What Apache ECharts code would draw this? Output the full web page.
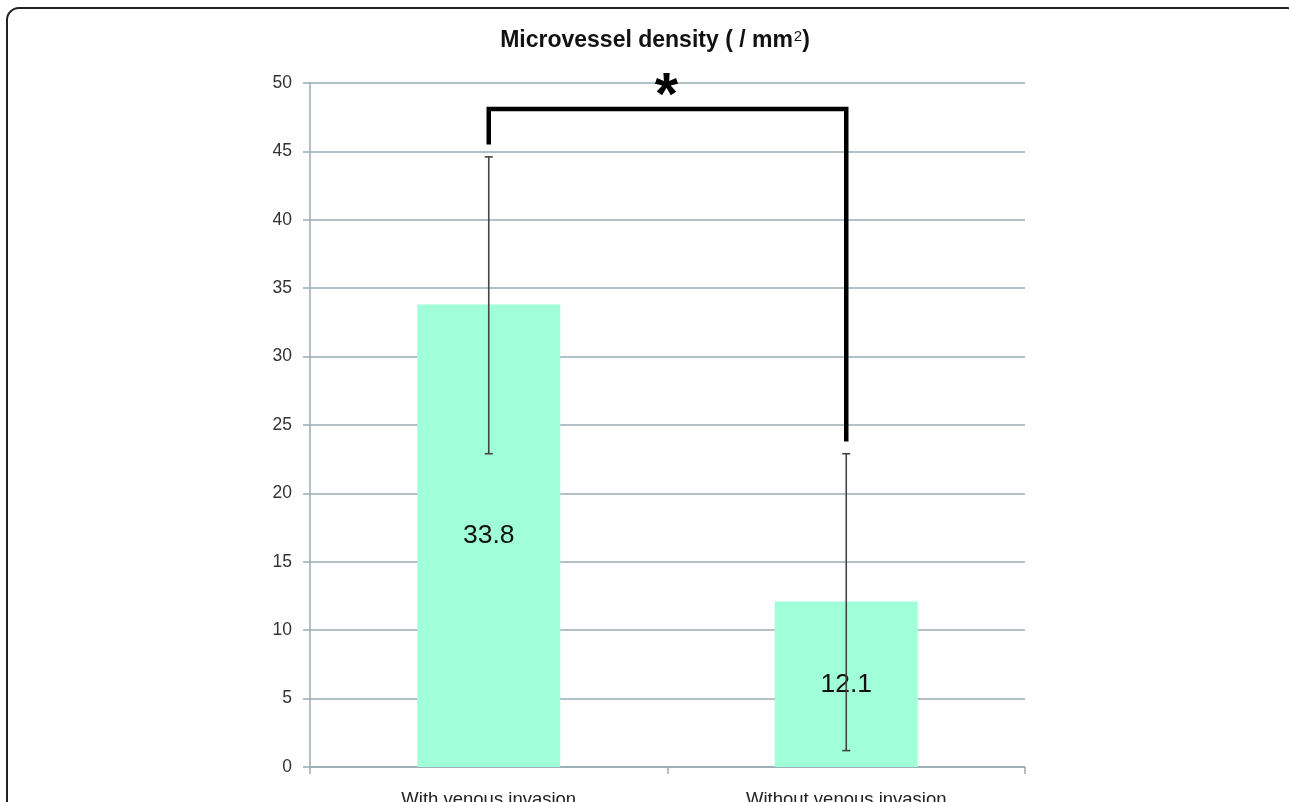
<!DOCTYPE html>
<html><head><meta charset="utf-8">
<script src="https://cdn.jsdelivr.net/npm/echarts@6/dist/echarts.min.js"></script>
<style>html,body{margin:0;padding:0;background:#fff;}#c{width:1289px;height:802px;}</style>
</head><body><div id="c"></div>
<script>
const categories = ['With venous invasion', 'Without venous invasion'];
const means = [33.8, 12.1];
const errLow = [22.9, 1.2];
const errHigh = [44.6, 22.9];
const yTicks = [0, 5, 10, 15, 20, 25, 30, 35, 40, 45, 50];
const bracket = [[0, 45.5], [0, 48.1], [1, 48.1], [1, 23.8]];
const starLevel = 50;

const chart = echarts.init(document.getElementById('c'));
const axisColor = '#9aabb3';
chart.setOption({
  animation: false,
  title: {
    text: 'Microvessel density ( / mm{s|2})',
    left: 650, top: 24, textAlign: 'center',
    textStyle: {
      fontFamily: 'Liberation Sans, Arial', fontWeight: 'bold', fontSize: 23, color: '#111',
      rich: { s: { fontFamily: 'Liberation Sans', fontSize: 15, fontWeight: 'normal', verticalAlign: 'top', padding: [0, 0, 9, 1], color: '#111' } }
    }
  },
  grid: { left: 310, right: 264, top: 83, bottom: 35, containLabel: false, outerBoundsMode: 'none' },
  xAxis: {
    type: 'category', data: categories,
    axisLine: { lineStyle: { color: axisColor, width: 1.5 } },
    axisTick: { show: true, length: 7, lineStyle: { color: axisColor, width: 1.5 } },
    axisLabel: { margin: 23, fontFamily: 'Liberation Sans, Arial', fontSize: 18.5, color: '#222' }
  },
  yAxis: {
    type: 'value', min: 0, max: 50, interval: 5,
    axisLine: { show: true, lineStyle: { color: axisColor, width: 1.5 } },
    axisTick: { show: true, length: 7, lineStyle: { color: axisColor, width: 1.5 } },
    splitLine: { lineStyle: { color: axisColor, width: 1.5 } },
    axisLabel: { margin: 18, fontFamily: 'Liberation Sans, Arial', fontSize: 17.5, color: '#333' }
  },
  series: [
    {
      type: 'bar', data: means, barWidth: '40%',
      itemStyle: { color: '#a0fed9' },
      label: { show: true, position: 'inside', fontFamily: 'Liberation Sans, Arial', fontSize: 26.5, color: '#111' }
    },
    {
      type: 'custom',
      data: categories.map((c, i) => [i, errLow[i], errHigh[i]]),
      renderItem: function (params, api) {
        const lo = api.coord([api.value(0), api.value(1)]);
        const hi = api.coord([api.value(0), api.value(2)]);
        const w = 4;
        const st = { stroke: '#444', lineWidth: 1.6 };
        return { type: 'group', children: [
          { type: 'line', shape: { x1: hi[0], y1: hi[1], x2: lo[0], y2: lo[1] }, style: st },
          { type: 'line', shape: { x1: hi[0] - w, y1: hi[1], x2: hi[0] + w, y2: hi[1] }, style: st },
          { type: 'line', shape: { x1: lo[0] - w, y1: lo[1], x2: lo[0] + w, y2: lo[1] }, style: st }
        ] };
      },
      z: 5
    },
    {
      type: 'line', data: bracket, symbol: 'none',
      lineStyle: { color: '#000', width: 4.5, join: 'miter' }, z: 6
    }
  ]
});

const p0 = chart.convertToPixel({ seriesIndex: 0 }, [0, starLevel]);
const p1 = chart.convertToPixel({ seriesIndex: 0 }, [1, starLevel]);
chart.setOption({
  graphic: [
    { type: 'rect', shape: { x: 7, y: 8, width: 1292, height: 850, r: 12 }, style: { fill: 'none', stroke: '#222', lineWidth: 2 }, silent: true },
    { type: 'text', x: (p0[0] + p1[0]) / 2 - 1, y: p0[1] + 14, style: { text: '*', fontFamily: 'Liberation Sans', fontWeight: 'bold', fontSize: 60, fill: '#000', align: 'center', verticalAlign: 'middle' }, z: 10 }
  ]
});
</script></body></html>
